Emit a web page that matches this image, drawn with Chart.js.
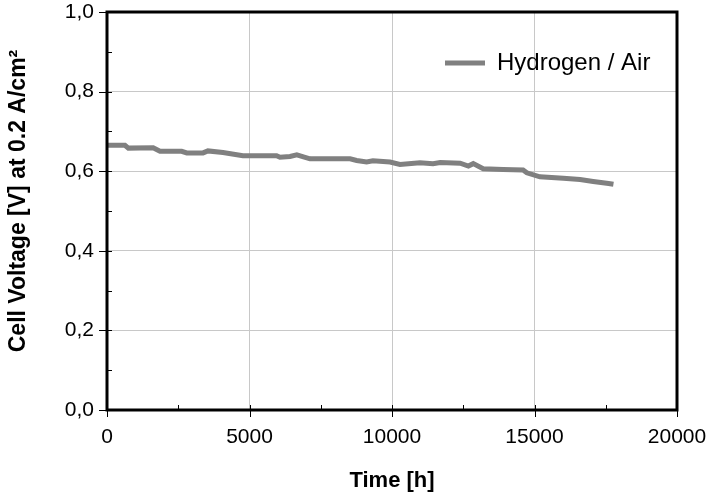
<!DOCTYPE html>
<html>
<head>
<meta charset="utf-8">
<script src="https://cdn.jsdelivr.net/npm/chart.js@4.4.1/dist/chart.umd.min.js"></script>
<style>
  html, body { margin: 0; padding: 0; background: #fff; }
</style>
</head>
<body>
<canvas id="cell" width="710" height="498"></canvas>
<script>
// time in hours and cell voltage (V)
const hours = [0, 630, 750, 1620, 1860, 2620, 2800, 3370, 3540, 4070, 4770, 5950, 6070, 6420, 6660, 7120,
  8530, 8760, 9110, 9330, 9930, 10280, 10980, 11440, 11690, 12390, 12680, 12850, 13200, 13900, 14600,
  14730, 15190, 16010, 16600, 17060, 17600, 17770];
const voltage = [0.665, 0.665, 0.658, 0.659, 0.650, 0.650, 0.646, 0.646, 0.651, 0.647, 0.639, 0.639, 0.635,
  0.637, 0.641, 0.631, 0.631, 0.627, 0.623, 0.626, 0.623, 0.617, 0.621, 0.619, 0.622, 0.620, 0.613, 0.619,
  0.606, 0.604, 0.603, 0.596, 0.586, 0.582, 0.579, 0.574, 0.569, 0.567];
const seriesLabel = 'Hydrogen / Air';
const yTitle = 'Cell Voltage [V] at 0.2 A/cm²';
const xTitle = 'Time [h]';

const FONT = "'Liberation Sans', Arial, sans-serif";
const LINE_GREY = '#808080';

// black box round the plot plus the small tick marks (major crossing, minor inside)
const frame = {
  id: 'frame',
  afterDraw(chart) {
    const { ctx, chartArea: a, scales } = chart;
    ctx.save();
    ctx.strokeStyle = '#000';
    ctx.lineWidth = 1;
    for (let v = 0; v <= 1.0001; v += 0.1) {
      const y = Math.round(scales.y.getPixelForValue(v)) + 0.5;
      const major = Math.round(v * 10) % 2 === 0;
      ctx.beginPath();
      ctx.moveTo(major ? a.left - 8 : a.left, y);
      ctx.lineTo(a.left + 5, y);
      ctx.stroke();
    }
    for (let t = 0; t <= 20000; t += 2500) {
      const x = Math.round(scales.x.getPixelForValue(t)) + 0.5;
      const major = t % 5000 === 0;
      ctx.beginPath();
      ctx.moveTo(x, a.bottom - 5);
      ctx.lineTo(x, major ? a.bottom + 7 : a.bottom);
      ctx.stroke();
    }
    ctx.lineWidth = 3;
    ctx.strokeRect(a.left, a.top, a.right - a.left, a.bottom - a.top);

    // y title, rotated
    ctx.fillStyle = '#000';
    ctx.font = 'bold 23px ' + FONT;
    ctx.textAlign = 'center';
    ctx.textBaseline = 'middle';
    ctx.translate(19, 201);
    ctx.rotate(-Math.PI / 2);
    ctx.fillText(yTitle, 0, 0);
    ctx.restore();

    // legend inside the plot
    ctx.save();
    ctx.strokeStyle = LINE_GREY;
    ctx.lineWidth = 5;
    ctx.beginPath();
    ctx.moveTo(445, 63);
    ctx.lineTo(485, 63);
    ctx.stroke();
    ctx.fillStyle = '#000';
    ctx.font = '24px ' + FONT;
    ctx.textAlign = 'left';
    ctx.textBaseline = 'middle';
    ctx.fillText(seriesLabel, 497, 63);
    ctx.restore();
  }
};

new Chart(document.getElementById('cell'), {
  type: 'line',
  data: {
    datasets: [{
      label: seriesLabel,
      data: hours.map((h, i) => ({ x: h, y: voltage[i] })),
      borderColor: LINE_GREY,
      borderWidth: 5,
      pointRadius: 0,
      tension: 0,
      fill: false
    }]
  },
  options: {
    responsive: false,
    animation: false,
    layout: { padding: { top: 12, right: 33, left: 0, bottom: 0 } },
    plugins: {
      legend: { display: false },
      tooltip: { enabled: false }
    },
    scales: {
      x: {
        type: 'linear',
        min: 0,
        max: 20000,
        afterFit: (s) => { s.height = 88; s.paddingLeft = 0; s.paddingRight = 0; },
        ticks: {
          stepSize: 5000,
          color: '#000',
          font: { family: FONT, size: 21 },
          padding: 15,
          maxRotation: 0,
          callback: (v) => String(v)
        },
        grid: { color: '#c8c8c8', drawTicks: false },
        border: { display: false },
        title: {
          display: true,
          text: xTitle,
          color: '#000',
          font: { family: FONT, size: 22, weight: 'bold' },
          padding: { top: 0, bottom: 4 }
        }
      },
      y: {
        min: 0,
        max: 1,
        afterFit: (s) => { s.width = 107; s.paddingTop = 0; s.paddingBottom = 0; },
        ticks: {
          stepSize: 0.2,
          color: '#000',
          font: { family: FONT, size: 21 },
          padding: 13,
          callback: (v) => v.toFixed(1).replace('.', ',')
        },
        grid: { color: '#c8c8c8', drawTicks: false },
        border: { display: false }
      }
    }
  },
  plugins: [frame]
});
</script>
</body>
</html>
